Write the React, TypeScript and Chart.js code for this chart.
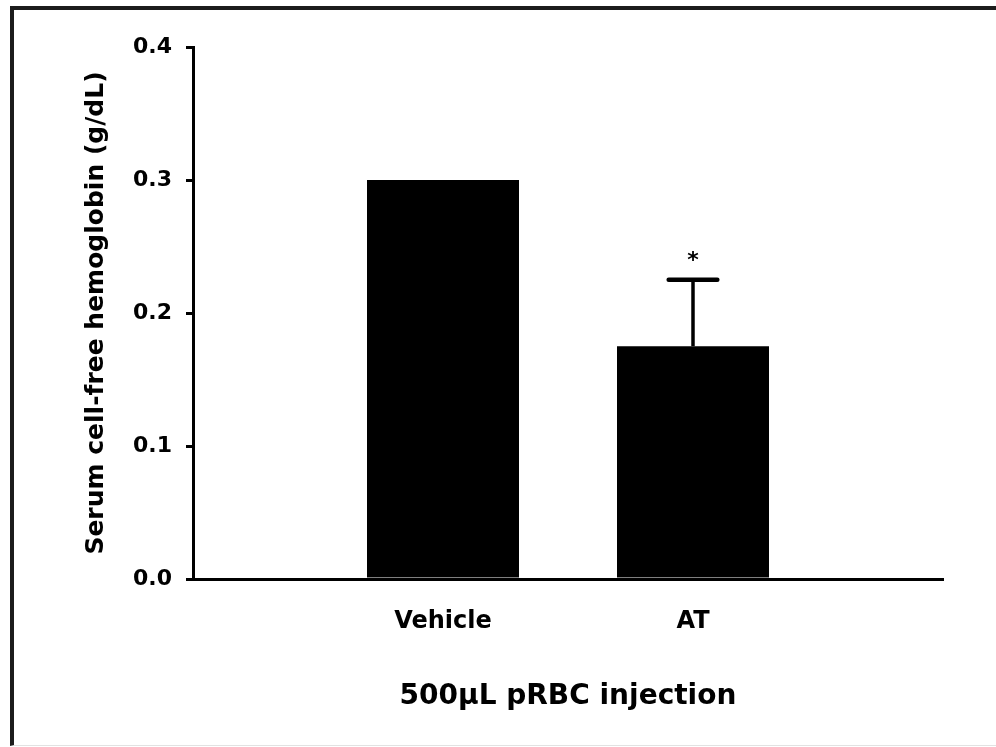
import React, { useEffect, useRef } from "react";
import { Chart, registerables } from "chart.js";

Chart.register(...registerables);

const categories = ["", "Vehicle", "AT", ""];
const means: (number | null)[] = [null, 0.3, 0.175, null];
const errors: (number | null)[] = [null, 0, 0.05, null];
const significance = ["", "", "*", ""];
const yTicks = [0.0, 0.1, 0.2, 0.3, 0.4];
const xTitle = "500μL pRBC injection";
const yTitle = "Serum cell-free hemoglobin (g/dL)";

const FONT = "'DejaVu Sans', 'Liberation Sans', Arial, sans-serif";

const errorBarPlugin = {
  id: "errorBars",
  afterDatasetsDraw(chart: any) {
    const { ctx } = chart;
    const y = chart.scales.y;
    const meta = chart.getDatasetMeta(0);
    meta.data.forEach((bar: any, i: number) => {
      const m = means[i];
      const e = errors[i];
      if (m == null || e == null) return;
      const x = bar.x;
      const yBase = y.getPixelForValue(m);
      const yTop = y.getPixelForValue(m + e);
      const capHalf = bar.width * 0.16;
      ctx.save();
      ctx.strokeStyle = "#000";
      ctx.fillStyle = "#000";
      if (e > 0) {
        ctx.lineWidth = 3.5;
        ctx.beginPath();
        ctx.moveTo(x, yBase);
        ctx.lineTo(x, yTop);
        ctx.stroke();
        ctx.lineWidth = 4.5;
        ctx.lineCap = "round";
        ctx.beginPath();
        ctx.moveTo(x - capHalf, yTop);
        ctx.lineTo(x + capHalf, yTop);
        ctx.stroke();
      }
      if (significance[i]) {
        ctx.font = `bold 22px ${FONT}`;
        ctx.textAlign = "center";
        ctx.textBaseline = "alphabetic";
        ctx.fillText(significance[i], x, yTop - 13);
      }
      ctx.restore();
    });
  },
};

export default function App() {
  const canvasRef = useRef<HTMLCanvasElement | null>(null);

  useEffect(() => {
    if (!canvasRef.current) return;
    const chart = new Chart(canvasRef.current, {
      type: "bar",
      data: {
        labels: categories,
        datasets: [
          {
            data: means as any,
            backgroundColor: "#000",
            borderWidth: 0,
            categoryPercentage: 1,
            barPercentage: 0.608,
          },
        ],
      },
      options: {
        animation: false,
        responsive: false,
        devicePixelRatio: 1,
        layout: { padding: { left: 0, right: 53, top: 47, bottom: 0 } },
        plugins: {
          legend: { display: false },
          tooltip: { enabled: false },
        },
        scales: {
          x: {
            type: "category",
            offset: false,
            grid: { display: false, offset: false },
            border: { display: true, width: 3, color: "#000" },
            ticks: {
              color: "#000",
              font: { family: FONT, size: 24, weight: "bold" },
              padding: 20,
              autoSkip: false,
              maxRotation: 0,
            },
            title: {
              display: true,
              text: xTitle,
              color: "#000",
              font: { family: FONT, size: 28, weight: "bold" },
              padding: { top: 0, bottom: 33 },
            },
            afterFit: (s: any) => {
              s.height = 168;
            },
          },
          y: {
            min: 0,
            max: 0.4,
            afterBuildTicks: (s: any) => {
              s.ticks = yTicks.map((v) => ({ value: v }));
            },
            ticks: {
              color: "#000",
              font: { family: FONT, size: 22, weight: "bold" },
              padding: 14,
              callback: (v: any) => Number(v).toFixed(1),
            },
            grid: {
              display: true,
              drawOnChartArea: false,
              drawTicks: true,
              tickLength: 7,
              lineWidth: 3,
              color: "#000",
            },
            border: { display: true, width: 3, color: "#000" },
            title: {
              display: true,
              text: yTitle,
              color: "#000",
              font: { family: FONT, size: 25, weight: "bold" },
              padding: { top: 81, bottom: 0 },
            },
            afterFit: (s: any) => {
              s.width = 193;
            },
          },
        },
      } as any,
      plugins: [errorBarPlugin],
    });
    return () => chart.destroy();
  }, []);

  return (
    <div
      style={{
        position: "absolute",
        left: 0,
        top: 0,
        width: 996,
        height: 747,
        background: "#fff",
        overflow: "hidden",
      }}
    >
      <div
        style={{
          position: "absolute",
          left: 10,
          top: 6,
          width: 990,
          height: 740,
          boxSizing: "border-box",
          borderLeft: "4px solid #1c1c1c",
          borderTop: "4px solid #1c1c1c",
          borderBottom: "1px solid #e2e2e2",
        }}
      />
      <canvas
        ref={canvasRef}
        width={996}
        height={747}
        style={{ position: "absolute", left: 0, top: 0, display: "block" }}
      />
    </div>
  );
}
